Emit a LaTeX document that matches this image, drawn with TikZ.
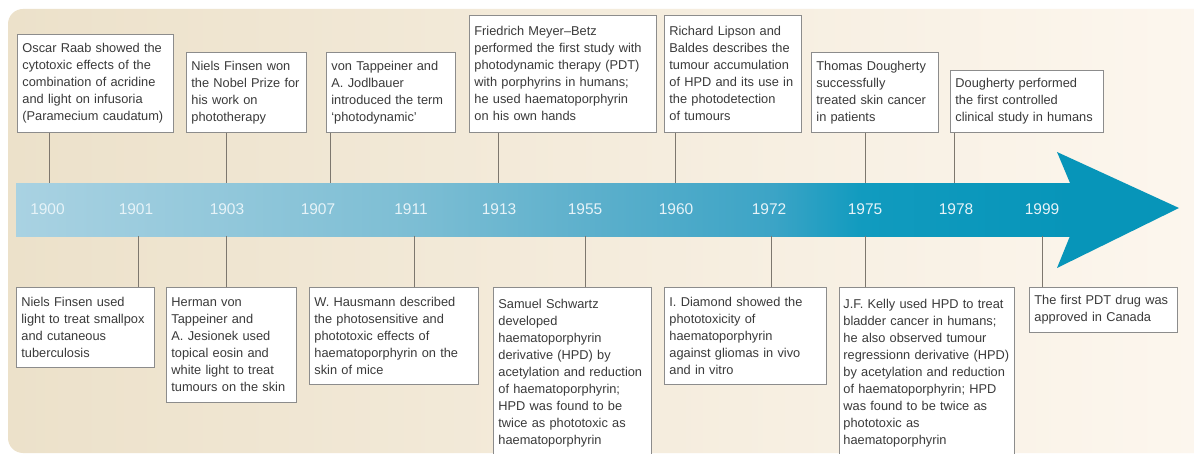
\documentclass[tikz,border=0pt]{standalone}
\usepackage{fontspec}
\setmainfont{Liberation Sans}
\definecolor{bgL}{HTML}{ECE1CA}
\definecolor{bgR}{HTML}{FDF7EF}
\definecolor{bandA}{HTML}{A9D2E2}
\definecolor{bandB}{HTML}{7DBED4}
\definecolor{bandC}{HTML}{5DB0CC}
\definecolor{bandD}{HTML}{3CA4C6}
\definecolor{bandE}{HTML}{119BBF}
\definecolor{bandF}{HTML}{0795B9}
\definecolor{headc}{HTML}{0795B9}
\definecolor{tickc}{HTML}{7D776E}
\definecolor{boxc}{HTML}{8C8C8C}
\definecolor{txtc}{HTML}{3A3A3A}
\definecolor{yearc}{HTML}{E6F3F8}
\pgfdeclarehorizontalshading{bandshade}{100bp}{color(0bp)=(bandA); color(25bp)=(bandA); color(43.7bp)=(bandB); color(52bp)=(bandC); color(60.8bp)=(bandD); color(65bp)=(bandE); color(75bp)=(bandF); color(100bp)=(bandF)}
\begin{document}
\begin{tikzpicture}[x=1pt,y=-1pt,
  evbox/.style={draw=boxc, line width=0.8pt, fill=white, align=left, anchor=north west, inner xsep=5pt, inner ysep=5pt, text=txtc, font=\fontsize{12.8}{17}\selectfont},
  wd/.style={minimum width=#1, text width=#1-10pt},
  tick/.style={draw=tickc, line width=0.9pt},
  year/.style={text=yearc, font=\fontsize{15.5}{18}\selectfont}]
\useasboundingbox (0,0) rectangle (1194,454);
\fill[white] (0,0) rectangle (1194,454);
\shade[left color=bgL, right color=bgR, rounded corners=15pt] (8,9) rectangle (1230,453);

% band and head
\node[shade, shading=bandshade, draw=none, inner sep=0pt, minimum width=1056pt, minimum height=53pt, anchor=north west] (band) at (16,183) {};
\fill[headc] (1070,183) -- (1057,152) -- (1179,208) -- (1057,268) -- (1070,236) -- cycle;

% years
\node[year] (y1900) at (47.5,209) {1900};
\node[year] (y1901) at (136,209) {1901};
\node[year] (y1903) at (227,209) {1903};
\node[year] (y1907) at (318,209) {1907};
\node[year] (y1911) at (411,209) {1911};
\node[year] (y1913) at (499,209) {1913};
\node[year] (y1955) at (585,209) {1955};
\node[year] (y1960) at (676,209) {1960};
\node[year] (y1972) at (769,209) {1972};
\node[year] (y1975) at (865,209) {1975};
\node[year] (y1978) at (956,209) {1978};
\node[year] (y1999) at (1042,209) {1999};

% top boxes
\node[evbox, wd=156pt, minimum height=98pt] (T1) at (17,34) {Oscar Raab showed the\\cytotoxic effects of the\\combination of acridine\\and light on infusoria\\(Paramecium caudatum)};
\node[evbox, wd=120pt, minimum height=80pt] (T2) at (186,52) {Niels Finsen won\\the Nobel Prize for\\his work on\\phototherapy};
\node[evbox, wd=129pt, minimum height=80pt] (T3) at (326,52) {von Tappeiner and\\A. Jodlbauer\\introduced the term\\‘photodynamic’};
\node[evbox, wd=187pt, minimum height=117pt] (T4) at (469,15) {Friedrich Meyer–Betz\\performed the first study with\\photodynamic therapy (PDT)\\with porphyrins in humans;\\he used haematoporphyrin\\on his own hands};
\node[evbox, wd=137pt, minimum height=117pt] (T5) at (664,15) {Richard Lipson and\\Baldes describes the\\tumour accumulation\\of HPD and its use in\\the photodetection\\of tumours};
\node[evbox, wd=127pt, minimum height=80pt] (T6) at (811,52) {Thomas Dougherty\\successfully\\treated skin cancer\\in patients};
\node[evbox, wd=153pt, minimum height=62pt] (T7) at (950,70) {Dougherty performed\\the first controlled\\clinical study in humans};

% bottom boxes
\node[evbox, wd=138pt, minimum height=80pt] (B1) at (16,287) {Niels Finsen used\\light to treat smallpox\\and cutaneous\\tuberculosis};
\node[evbox, wd=130pt, minimum height=115pt] (B2) at (166,287) {Herman von\\Tappeiner and\\A. Jesionek used\\topical eosin and\\white light to treat\\tumours on the skin};
\node[evbox, wd=169pt, minimum height=97pt] (B3) at (309,287) {W. Hausmann described\\the photosensitive and\\phototoxic effects of\\haematoporphyrin on the\\skin of mice};
\node[evbox, wd=158pt, minimum height=172pt] (B4) at (493,287) {Samuel Schwartz\\developed\\haematoporphyrin\\derivative (HPD) by\\acetylation and reduction\\of haematoporphyrin;\\HPD was found to be\\twice as phototoxic as\\haematoporphyrin};
\node[evbox, wd=162pt, minimum height=97pt] (B5) at (664,287) {I. Diamond showed the\\phototoxicity of\\haematoporphyrin\\against gliomas in vivo\\and in vitro};
\node[evbox, inner xsep=4pt, minimum width=175pt, text width=167pt, minimum height=172pt] (B6) at (839,287) {J.F. Kelly used HPD to treat\\bladder cancer in humans;\\he also observed tumour\\regressionn derivative (HPD)\\by acetylation and reduction\\of haematoporphyrin; HPD\\was found to be twice as\\phototoxic as\\haematoporphyrin};
\node[evbox, wd=148pt, minimum height=45pt] (B7) at (1029,287) {The first PDT drug was\\approved in Canada};

% tick anchor points on the band
\coordinate (a1) at (49,183);
\coordinate (a2) at (226,183);
\coordinate (a3) at (330,183);
\coordinate (a4) at (498,183);
\coordinate (a5) at (675,183);
\coordinate (a6) at (865,183);
\coordinate (a7) at (954,183);
\coordinate (b1) at (138,236);
\coordinate (b2) at (226,236);
\coordinate (b3) at (414,236);
\coordinate (b4) at (585,236);
\coordinate (b5) at (771,236);
\coordinate (b6) at (865,236);
\coordinate (b7) at (1042,236);

\draw[tick] (T1.south -| a1) -- (a1);
\draw[tick] (T2.south -| a2) -- (a2);
\draw[tick] (T3.south -| a3) -- (a3);
\draw[tick] (T4.south -| a4) -- (a4);
\draw[tick] (T5.south -| a5) -- (a5);
\draw[tick] (T6.south -| a6) -- (a6);
\draw[tick] (T7.south -| a7) -- (a7);
\draw[tick] (b1) -- (B1.north -| b1);
\draw[tick] (b2) -- (B2.north -| b2);
\draw[tick] (b3) -- (B3.north -| b3);
\draw[tick] (b4) -- (B4.north -| b4);
\draw[tick] (b5) -- (B5.north -| b5);
\draw[tick] (b6) -- (B6.north -| b6);
\draw[tick] (b7) -- (B7.north -| b7);
\end{tikzpicture}
\end{document}
